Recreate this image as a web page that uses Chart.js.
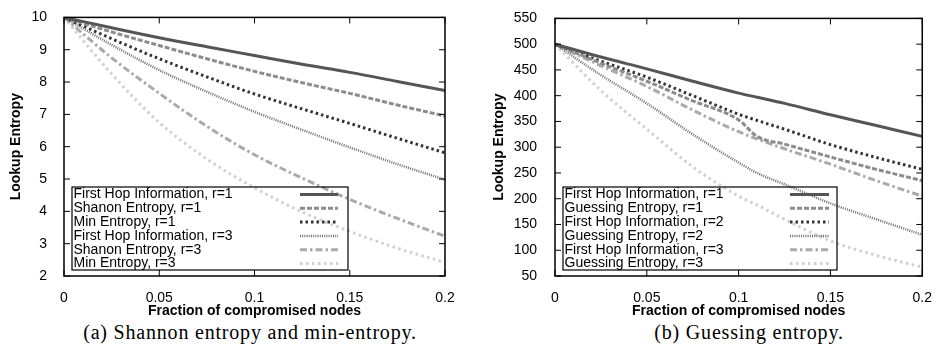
<!DOCTYPE html>
<html>
<head>
<meta charset="utf-8">
<script src="https://cdn.jsdelivr.net/npm/chart.js@4"></script>
<style>
  body { margin: 0; background: #fff; }
  #wrap { position: relative; width: 938px; height: 350px; }
  canvas { position: absolute; top: 0; }
  .cap { position: absolute; top: 321px; font-family: "Liberation Serif", serif; font-size: 20px; letter-spacing: 0.8px; color: #000; white-space: nowrap; transform: translateX(-50%); }
</style>
</head>
<body>
<div id="wrap">
  <canvas id="left" width="469" height="320" style="left:0"></canvas>
  <canvas id="right" width="469" height="320" style="left:469px"></canvas>
  <div class="cap" style="left:250px">(a) Shannon entropy and min-entropy.</div>
  <div class="cap" style="left:749px">(b) Guessing entropy.</div>
</div>
<script>
// Shared x ticks
const xTicks = [0, 0.05, 0.1, 0.15, 0.2];

// (a) Shannon entropy and min-entropy
const xLeft = [0, 0.025, 0.05, 0.075, 0.1, 0.125, 0.15, 0.175, 0.2];
const firstHopR1 = [10, 9.68, 9.37, 9.09, 8.82, 8.55, 8.30, 8.02, 7.74];
const shannonR1 = [10, 9.55, 9.13, 8.72, 8.33, 7.98, 7.65, 7.29, 6.95];
const minR1 = [10, 9.34, 8.72, 8.16, 7.63, 7.17, 6.72, 6.26, 5.81];
const firstHopR3 = [10, 9.15, 8.37, 7.70, 7.08, 6.52, 5.98, 5.46, 4.98];
const shannonR3 = [10, 8.75, 7.65, 6.63, 5.75, 5.03, 4.37, 3.78, 3.23];
const minR3 = [10, 8.25, 6.75, 5.62, 4.73, 3.98, 3.38, 2.86, 2.42];
const labelsLeft = ['First Hop Information, r=1', 'Shanon Entropy, r=1', 'Min Entropy, r=1',
                    'First Hop Information, r=3', 'Shanon Entropy, r=3', 'Min Entropy, r=3'];

// (b) Guessing entropy
const xRight = [0, 0.025, 0.05, 0.075, 0.1, 0.11, 0.125, 0.15, 0.175, 0.2];
const fhR1 = [500, 475, 452, 428, 405, 397, 385, 363, 342, 321];
const guessR1 = [500, 463, 428, 390, 353, 321, 306, 281, 257, 235];
const fhR2 = [500, 467, 436, 400, 364, 352, 335, 305, 280, 257];
const guessR2 = [500, 440, 385, 325, 270, 250, 228, 191, 160, 130];
const fhR3 = [500, 458, 418, 372, 330, 316, 297, 267, 235, 205];
const guessR3 = [500, 410, 335, 262, 205, 188, 160, 118, 90, 67];
const labelsRight = ['First Hop Information, r=1', 'Guessing Entropy, r=1', 'First Hop Information, r=2',
                     'Guessing Entropy, r=2', 'First Hop Information, r=3', 'Guessing Entropy, r=3'];

// gnuplot-like grey line styles, one per series slot
const lineStyles = [
    { color: '#555555', width: 3, dash: [] },
    { color: '#8c8c8c', width: 3, dash: [5, 2] },
    { color: '#333333', width: 3, dash: [2.5, 3] },
    { color: '#6e6e6e', width: 2.5, dash: [1, 1.2] },
    { color: '#aaaaaa', width: 3, dash: [7, 3, 2.5, 3] },
    { color: '#d0d0d0', width: 3, dash: [2.5, 3.5] }
];

Chart.defaults.font.family = "'Liberation Sans', Arial, sans-serif";
Chart.defaults.font.size = 14;
Chart.defaults.color = '#000';

function makeDatasets(xs, series, labels) {
    return series.map(function(ys, i) {
        return {
            label: labels[i],
            data: xs.map(function(x, j) { return { x: x, y: ys[j] }; }),
            borderColor: lineStyles[i].color,
            borderWidth: lineStyles[i].width,
            borderDash: lineStyles[i].dash,
            pointRadius: 0,
            fill: false,
            tension: 0.4,
            cubicInterpolationMode: 'monotone'
        };
    });
}

// Box around plot plus inward ticks on all four sides
const framePlugin = {
    id: 'frame',
    afterDatasetsDraw(chart) {
        const ctx = chart.ctx, a = chart.chartArea;
        const sx = chart.scales.x, sy = chart.scales.y;
        ctx.save();
        ctx.strokeStyle = '#000';
        ctx.lineWidth = 1;
        ctx.beginPath();
        sx.ticks.forEach(function(t) {
            const px = sx.getPixelForValue(t.value);
            ctx.moveTo(px, a.bottom); ctx.lineTo(px, a.bottom - 6);
            ctx.moveTo(px, a.top); ctx.lineTo(px, a.top + 6);
        });
        sy.ticks.forEach(function(t) {
            const py = sy.getPixelForValue(t.value);
            ctx.moveTo(a.left, py); ctx.lineTo(a.left + 6, py);
            ctx.moveTo(a.right, py); ctx.lineTo(a.right - 6, py);
        });
        ctx.stroke();
        ctx.lineWidth = 1.5;
        ctx.strokeRect(a.left, a.top, a.right - a.left, a.bottom - a.top);
        ctx.restore();
    }
};

// gnuplot style key: text on the left, line sample on the right
const keyPlugin = {
    id: 'key',
    afterDatasetsDraw(chart, args, opts) {
        const ctx = chart.ctx, a = chart.chartArea;
        const left = a.left + opts.offsetX, top = opts.top;
        ctx.save();
        ctx.strokeStyle = '#000';
        ctx.lineWidth = 1.2;
        ctx.strokeRect(left, top, opts.width, opts.height);
        ctx.font = "14px 'Liberation Sans', Arial, sans-serif";
        ctx.fillStyle = '#000';
        ctx.textBaseline = 'middle';
        chart.data.datasets.forEach(function(ds, i) {
            const y = top + 7.5 + i * opts.rowH;
            ctx.fillText(ds.label, left + 1.5, y);
            ctx.beginPath();
            ctx.strokeStyle = ds.borderColor;
            ctx.lineWidth = ds.borderWidth;
            ctx.setLineDash(ds.borderDash);
            ctx.moveTo(left + opts.sampleX, y);
            ctx.lineTo(left + opts.sampleX + opts.sampleW, y);
            ctx.stroke();
            ctx.setLineDash([]);
        });
        ctx.restore();
    }
};

function makeChart(id, xs, series, labels, yMin, yMax, yStep, cfg) {
    return new Chart(document.getElementById(id), {
        type: 'line',
        data: { datasets: makeDatasets(xs, series, labels) },
        options: {
            responsive: false,
            animation: false,
            devicePixelRatio: 1,
            layout: { padding: { top: 9, right: cfg.padRight, left: 0, bottom: 0 } },
            plugins: {
                legend: { display: false },
                tooltip: { enabled: false },
                key: cfg.key
            },
            scales: {
                x: {
                    type: 'linear',
                    min: 0,
                    max: 0.2,
                    grid: { display: false },
                    border: { display: false },
                    afterBuildTicks: function(scale) {
                        scale.ticks = xTicks.map(function(v) { return { value: v }; });
                    },
                    afterFit: function(scale) { scale.height = 44; },
                    ticks: {
                        padding: 6,
                        maxRotation: 0,
                        callback: function(v) { return String(+v.toFixed(2)); }
                    },
                    title: {
                        display: true,
                        text: 'Fraction of compromised nodes',
                        font: { weight: 'bold', size: 14 },
                        padding: { top: 0, bottom: 0.6 }
                    }
                },
                y: {
                    min: yMin,
                    max: yMax,
                    grid: { display: false },
                    border: { display: false },
                    afterFit: function(scale) { scale.width = cfg.yWidth; },
                    ticks: { stepSize: yStep, padding: cfg.tickPad },
                    title: {
                        display: true,
                        text: 'Lookup Entropy',
                        font: { weight: 'bold', size: 14 },
                        padding: { top: cfg.titlePad, bottom: 0 }
                    }
                }
            }
        },
        plugins: [framePlugin, keyPlugin]
    });
}

document.addEventListener('DOMContentLoaded', function() {
    makeChart('left', xLeft, [firstHopR1, shannonR1, minR1, firstHopR3, shannonR3, minR3],
        labelsLeft, 2, 10, 1, {
            padRight: 24, yWidth: 64, tickPad: 9, titlePad: 8,
            key: { offsetX: 8, top: 187, width: 276, height: 83, rowH: 13.8, sampleX: 228, sampleW: 38 }
        });
    makeChart('right', xRight, [fhR1, guessR1, fhR2, guessR2, fhR3, guessR3],
        labelsRight, 50, 550, 50, {
            padRight: 11, yWidth: 86, tickPad: 10, titlePad: 22,
            key: { offsetX: 8, top: 187, width: 274, height: 83, rowH: 13.8, sampleX: 227, sampleW: 39 }
        });
});
</script>
</body>
</html>
